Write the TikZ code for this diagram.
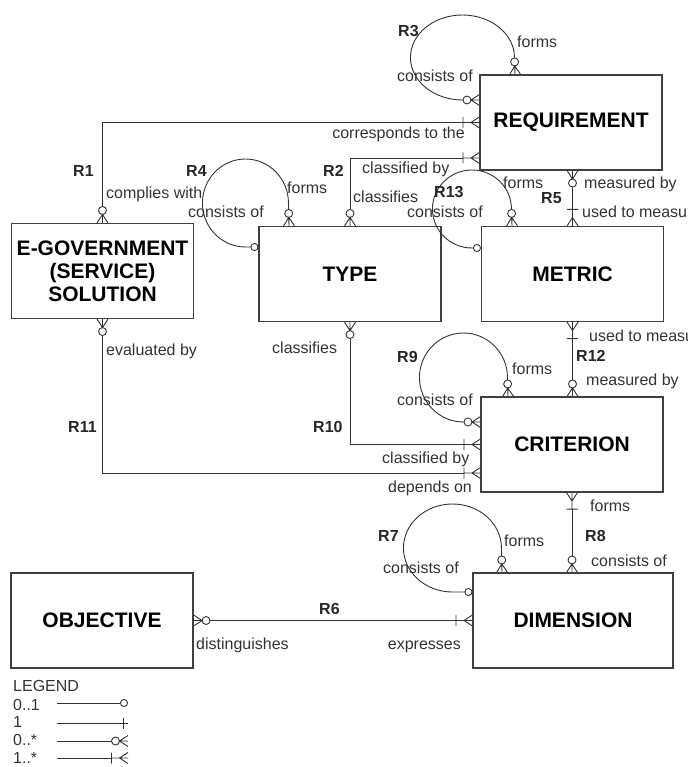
\documentclass[tikz,border=0pt]{standalone}
\usepackage{fontspec}
\setmainfont{Liberation Sans}
\usetikzlibrary{arrows.meta}

% crow's foot ends, the tip sits on the box edge
\pgfdeclarearrow{
    name = ZeroMany,
    parameters = {zm},
    setup code = {
        \pgfarrowssettipend{0pt}
        \pgfarrowssetlineend{-16.5pt}
        \pgfarrowssetbackend{-16.5pt}
    },
    drawing code = {
        \pgfsetdash{}{0pt}
        \pgfpathmoveto{\pgfpoint{0pt}{5.5pt}}
        \pgfpathlineto{\pgfpoint{-8.5pt}{0pt}}
        \pgfpathlineto{\pgfpoint{0pt}{-5.5pt}}
        \pgfpathmoveto{\pgfpointorigin}
        \pgfpathlineto{\pgfpoint{-8.5pt}{0pt}}
        \pgfpathcircle{\pgfpoint{-12.5pt}{0pt}}{4pt}
        \pgfusepathqstroke
    }
}
\pgfdeclarearrow{
    name = OneMany,
    parameters = {om},
    setup code = {
        \pgfarrowssettipend{0pt}
        \pgfarrowssetlineend{-16.5pt}
        \pgfarrowssetbackend{-16.5pt}
    },
    drawing code = {
        \pgfsetdash{}{0pt}
        \pgfpathmoveto{\pgfpoint{0pt}{5.5pt}}
        \pgfpathlineto{\pgfpoint{-8.5pt}{0pt}}
        \pgfpathlineto{\pgfpoint{0pt}{-5.5pt}}
        \pgfpathmoveto{\pgfpointorigin}
        \pgfpathlineto{\pgfpoint{-16.5pt}{0pt}}
        \pgfpathmoveto{\pgfpoint{-16.5pt}{5.5pt}}
        \pgfpathlineto{\pgfpoint{-16.5pt}{-5.5pt}}
        \pgfusepathqstroke
    }
}
\pgfdeclarearrow{
    name = OneBar,
    parameters = {ob},
    setup code = {
        \pgfarrowssettipend{0pt}
        \pgfarrowssetlineend{-5pt}
        \pgfarrowssetbackend{-5pt}
    },
    drawing code = {
        \pgfsetdash{}{0pt}
        \pgfpathmoveto{\pgfpoint{-5pt}{0pt}}
        \pgfpathlineto{\pgfpointorigin}
        \pgfpathmoveto{\pgfpoint{-5pt}{5.5pt}}
        \pgfpathlineto{\pgfpoint{-5pt}{-5.5pt}}
        \pgfusepathqstroke
    }
}

\tikzset{
    entity/.style={rectangle, draw=black!75, line width=1.1pt, minimum width=182pt, minimum height=95pt, inner sep=0pt, align=center, font=\fontsize{21}{23}\selectfont\bfseries},
    role/.style={anchor=base west, inner sep=0pt, text=black!80, font=\fontsize{16}{18}\selectfont},
    rname/.style={role, text=black!85, font=\fontsize{16}{18}\selectfont\bfseries},
    rel/.style={draw=black!80, line width=0.9pt},
}

\begin{document}
\begin{tikzpicture}[x=1pt, y=-1pt]
    \useasboundingbox (0,0) rectangle (687,767);

    % entities
    \node[entity] (req) at (571,122.5) {REQUIREMENT};
    \node[entity] (egov) at (102.5,271) {E-GOVERNMENT\\(SERVICE)\\SOLUTION};
    \node[entity] (type) at (350,274) {TYPE};
    \node[entity] (metric) at (572.5,274) {METRIC};
    \node[entity] (crit) at (572,444.5) {CRITERION};
    \node[entity] (obj) at (102,620.5) {OBJECTIVE};
    \node[entity, minimum width=200pt] (dim) at (573,620.5) {DIMENSION};

    % relationships
    \draw[rel, ZeroMany-OneMany] (egov.north) |- (req.west);
    \draw[rel, ZeroMany-OneMany] (type.north) |- ([yshift=-35.5pt]req.west);
    \draw[rel, ZeroMany-OneMany] (metric.north |- req.south) -- (metric.north);
    \draw[rel, OneMany-ZeroMany] (metric.south) -- (metric.south |- crit.north);
    \draw[rel, ZeroMany-OneMany] (type.south) |- (crit.west);
    \draw[rel, ZeroMany-OneMany] (egov.south) |- ([yshift=-28.5pt]crit.west);
    \draw[rel, OneMany-ZeroMany] (crit.south) -- (crit.south |- dim.north);
    \draw[rel, ZeroMany-OneMany] (obj.east) -- (dim.west);

    % recursive ones
    \draw[rel, ZeroMany-ZeroMany] ([yshift=22.5pt]req.west) -- ++(-17,0)
        arc[start angle=90, end angle=360, x radius=52, y radius=42.5] -- ([xshift=-56pt]req.north);
    \draw[rel, {Circle[open, length=8pt]}-ZeroMany] ([yshift=27pt]type.west) -- ++(-13,0)
        arc[start angle=90, end angle=360, x radius=43, y radius=44] -- ([xshift=-61pt]type.north);
    \draw[rel, {Circle[open, length=8pt]}-ZeroMany] ([yshift=26pt]metric.west) -- ++(-9,0)
        arc[start angle=90, end angle=360, x radius=39.5, y radius=39] -- ([xshift=-60.5pt]metric.north);
    \draw[rel, ZeroMany-ZeroMany] ([yshift=22.5pt]crit.west) -- ++(-17,0)
        arc[start angle=90, end angle=360, x radius=44, y radius=44.5] -- ([xshift=-64pt]crit.north);
    \draw[rel, {Circle[open, length=8pt]}-ZeroMany] ([yshift=28.5pt]dim.west) -- ++(-20,0)
        arc[start angle=90, end angle=360, x radius=49, y radius=44] -- ([xshift=-71pt]dim.north);

    % R1, R2, R3
    \node[rname] (rOne) at (73,177) {R1};
    \node[role] (complies) at (106,199) {complies with};
    \node[role, anchor=base east] (corresponds) at (465,139) {corresponds to the};
    \node[rname] (rTwo) at (323,177) {R2};
    \node[role] (classifiesA) at (353,203) {classifies};
    \node[role] (classifiedA) at (362,174) {classified by};
    \node[rname] (rThree) at (398,37) {R3};
    \node[role] (formsA) at (517,48) {forms};
    \node[role] (consistsA) at (397,82) {consists of};

    % R4, R13, R5
    \node[rname] (rFour) at (186,177) {R4};
    \node[role] (formsB) at (287,194) {forms};
    \node[role] (consistsB) at (188,218) {consists of};
    \node[rname] (rThirteen) at (434,197) {R13};
    \node[role] (formsC) at (503,189) {forms};
    \node[role] (consistsC) at (407,218) {consists of};
    \node[rname] (rFive) at (541,204) {R5};
    \node[role] (measuredA) at (584,189) {measured by};
    \node[role] (usedA) at (582,218) {used to measure};

    % R12, R9, R10, R11
    \node[role] (usedB) at (589,341) {used to measure};
    \node[rname] (rTwelve) at (576,361) {R12};
    \node[role] (measuredB) at (586,385) {measured by};
    \node[rname] (rNine) at (397,362) {R9};
    \node[role] (formsD) at (512,374) {forms};
    \node[role] (consistsD) at (397,405) {consists of};
    \node[role] (classifiesB) at (272,353) {classifies};
    \node[rname] (rTen) at (313,432) {R10};
    \node[role] (classifiedB) at (382,463) {classified by};
    \node[role] (evaluated) at (106,355) {evaluated by};
    \node[rname] (rEleven) at (68,432) {R11};
    \node[role] (depends) at (388,492) {depends on};

    % R8, R7, R6
    \node[role] (formsE) at (590,511) {forms};
    \node[rname] (rEight) at (585,541) {R8};
    \node[role] (consistsE) at (591,566) {consists of};
    \node[rname] (rSeven) at (378,541) {R7};
    \node[role] (formsF) at (504,546) {forms};
    \node[role] (consistsF) at (383,573) {consists of};
    \node[rname] (rSix) at (319,614) {R6};
    \node[role] (distinguishes) at (196,649) {distinguishes};
    \node[role, anchor=base east] (expresses) at (461,649) {expresses};

    % legend
    \node[role] (legend) at (13,691) {LEGEND};
    \node[role] (legA) at (13,710) {0..1};
    \node[role] (legB) at (13,727) {1};
    \node[role] (legC) at (13,745) {0..*};
    \node[role] (legD) at (13,763) {1..*};
    \coordinate (legAa) at (57,703);  \coordinate (legAb) at (128,703);
    \coordinate (legBa) at (57,723);  \coordinate (legBb) at (128,723);
    \coordinate (legCa) at (57,741);  \coordinate (legCb) at (128,741);
    \coordinate (legDa) at (57,758);  \coordinate (legDb) at (128,758);
    \draw[rel, -{Circle[open, length=8pt]}] (legAa) -- (legAb);
    \draw[rel, -OneBar] (legBa) -- (legBb);
    \draw[rel, -ZeroMany] (legCa) -- (legCb);
    \draw[rel, -OneMany] (legDa) -- (legDb);

\end{tikzpicture}
\end{document}
